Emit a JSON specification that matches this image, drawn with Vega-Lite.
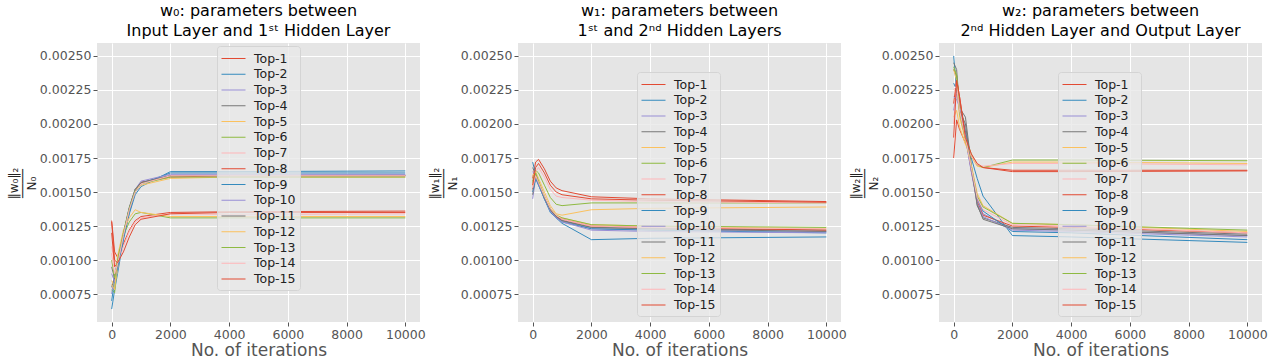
{
"$schema": "https://vega.github.io/schema/vega-lite/v6.json",
"autosize": {"type": "pad"},
"padding": {"left": 7, "top": 3, "right": 5, "bottom": 0},
"bounds": "flush",
"spacing": 98,
"config": {
  "font": "DejaVu Sans",
  "view": {"fill": "#E5E5E5", "stroke": null},
  "axis": {"domain": false, "grid": true, "gridColor": "#FFFFFF", "gridWidth": 1, "tickColor": "#555555", "tickSize": 4, "labelColor": "#555555", "labelFontSize": 12.5, "labelFont": "DejaVu Sans", "labelPadding": 2, "titleColor": "#555555", "titleFont": "DejaVu Sans", "titleFontWeight": "normal"},
  "title": {"font": "DejaVu Sans", "fontSize": 16, "fontWeight": "normal", "color": "#000000", "offset": 4, "anchor": "middle", "lineHeight": 20},
  "legend": {"orient": "none", "title": null, "symbolType": "M-1,0H2", "symbolSize": 256, "symbolStrokeWidth": 1, "labelFontSize": 12.5, "labelFont": "DejaVu Sans", "labelColor": "#222222", "fillColor": "rgba(232,232,232,0.8)", "strokeColor": "#d4d4d4", "padding": 4, "rowPadding": 0.75, "labelOffset": 16, "cornerRadius": 3, "zindex": 1}
},
"resolve": {"scale": {"color": "independent"}, "legend": {"color": "independent"}},
"datasets": {
"w0": [
{"s":"Top-1","x":0,"y":0.00129},{"s":"Top-1","x":100,"y":0.00106},{"s":"Top-1","x":200,"y":0.00102},{"s":"Top-1","x":400,"y":0.00112},{"s":"Top-1","x":600,"y":0.00122},{"s":"Top-1","x":800,"y":0.00129},{"s":"Top-1","x":1000,"y":0.00132},{"s":"Top-1","x":2000,"y":0.00135},{"s":"Top-1","x":4000,"y":0.001355},{"s":"Top-1","x":10000,"y":0.00136},
{"s":"Top-2","x":0,"y":0.00064},{"s":"Top-2","x":100,"y":0.00078},{"s":"Top-2","x":200,"y":0.0009},{"s":"Top-2","x":400,"y":0.00115},{"s":"Top-2","x":600,"y":0.00134},{"s":"Top-2","x":800,"y":0.00148},{"s":"Top-2","x":1000,"y":0.00154},{"s":"Top-2","x":2000,"y":0.00165},{"s":"Top-2","x":4000,"y":0.00165},{"s":"Top-2","x":10000,"y":0.001655},
{"s":"Top-3","x":0,"y":0.00075},{"s":"Top-3","x":100,"y":0.0009},{"s":"Top-3","x":200,"y":0.00098},{"s":"Top-3","x":400,"y":0.00118},{"s":"Top-3","x":600,"y":0.00137},{"s":"Top-3","x":800,"y":0.00151},{"s":"Top-3","x":1000,"y":0.00157},{"s":"Top-3","x":2000,"y":0.00162},{"s":"Top-3","x":4000,"y":0.00162},{"s":"Top-3","x":10000,"y":0.00162},
{"s":"Top-4","x":0,"y":0.0008},{"s":"Top-4","x":100,"y":0.00088},{"s":"Top-4","x":200,"y":0.00096},{"s":"Top-4","x":400,"y":0.00119},{"s":"Top-4","x":600,"y":0.00138},{"s":"Top-4","x":800,"y":0.00152},{"s":"Top-4","x":1000,"y":0.00157},{"s":"Top-4","x":2000,"y":0.00162},{"s":"Top-4","x":4000,"y":0.00162},{"s":"Top-4","x":10000,"y":0.001625},
{"s":"Top-5","x":0,"y":0.00085},{"s":"Top-5","x":100,"y":0.0008},{"s":"Top-5","x":200,"y":0.00093},{"s":"Top-5","x":400,"y":0.0012},{"s":"Top-5","x":600,"y":0.00137},{"s":"Top-5","x":800,"y":0.0015},{"s":"Top-5","x":1000,"y":0.00155},{"s":"Top-5","x":2000,"y":0.0016},{"s":"Top-5","x":4000,"y":0.00161},{"s":"Top-5","x":10000,"y":0.00161},
{"s":"Top-6","x":0,"y":0.00078},{"s":"Top-6","x":100,"y":0.00076},{"s":"Top-6","x":200,"y":0.001},{"s":"Top-6","x":400,"y":0.00118},{"s":"Top-6","x":600,"y":0.00128},{"s":"Top-6","x":800,"y":0.00134},{"s":"Top-6","x":1000,"y":0.00135},{"s":"Top-6","x":2000,"y":0.00131},{"s":"Top-6","x":4000,"y":0.00131},{"s":"Top-6","x":10000,"y":0.00131},
{"s":"Top-7","x":0,"y":0.0011},{"s":"Top-7","x":100,"y":0.00098},{"s":"Top-7","x":200,"y":0.00096},{"s":"Top-7","x":400,"y":0.0011},{"s":"Top-7","x":600,"y":0.00121},{"s":"Top-7","x":800,"y":0.00128},{"s":"Top-7","x":1000,"y":0.00131},{"s":"Top-7","x":2000,"y":0.00134},{"s":"Top-7","x":4000,"y":0.001335},{"s":"Top-7","x":10000,"y":0.00134},
{"s":"Top-8","x":0,"y":0.0012},{"s":"Top-8","x":100,"y":0.00095},{"s":"Top-8","x":200,"y":0.00098},{"s":"Top-8","x":400,"y":0.00118},{"s":"Top-8","x":600,"y":0.00137},{"s":"Top-8","x":800,"y":0.00151},{"s":"Top-8","x":1000,"y":0.00157},{"s":"Top-8","x":2000,"y":0.00161},{"s":"Top-8","x":4000,"y":0.00162},{"s":"Top-8","x":10000,"y":0.00162},
{"s":"Top-9","x":0,"y":0.0007},{"s":"Top-9","x":100,"y":0.00085},{"s":"Top-9","x":200,"y":0.00094},{"s":"Top-9","x":400,"y":0.00116},{"s":"Top-9","x":600,"y":0.00135},{"s":"Top-9","x":800,"y":0.0015},{"s":"Top-9","x":1000,"y":0.00156},{"s":"Top-9","x":2000,"y":0.00164},{"s":"Top-9","x":4000,"y":0.00164},{"s":"Top-9","x":10000,"y":0.00164},
{"s":"Top-10","x":0,"y":0.0009},{"s":"Top-10","x":100,"y":0.00084},{"s":"Top-10","x":200,"y":0.00097},{"s":"Top-10","x":400,"y":0.00119},{"s":"Top-10","x":600,"y":0.00138},{"s":"Top-10","x":800,"y":0.00152},{"s":"Top-10","x":1000,"y":0.00158},{"s":"Top-10","x":2000,"y":0.00163},{"s":"Top-10","x":4000,"y":0.00163},{"s":"Top-10","x":10000,"y":0.00163},
{"s":"Top-11","x":0,"y":0.00095},{"s":"Top-11","x":100,"y":0.00086},{"s":"Top-11","x":200,"y":0.00099},{"s":"Top-11","x":400,"y":0.0012},{"s":"Top-11","x":600,"y":0.00139},{"s":"Top-11","x":800,"y":0.00152},{"s":"Top-11","x":1000,"y":0.00157},{"s":"Top-11","x":2000,"y":0.00162},{"s":"Top-11","x":4000,"y":0.00162},{"s":"Top-11","x":10000,"y":0.00162},
{"s":"Top-12","x":0,"y":0.00082},{"s":"Top-12","x":100,"y":0.00078},{"s":"Top-12","x":200,"y":0.00103},{"s":"Top-12","x":400,"y":0.00122},{"s":"Top-12","x":600,"y":0.00131},{"s":"Top-12","x":800,"y":0.00137},{"s":"Top-12","x":1000,"y":0.00135},{"s":"Top-12","x":2000,"y":0.00132},{"s":"Top-12","x":4000,"y":0.00132},{"s":"Top-12","x":10000,"y":0.00132},
{"s":"Top-13","x":0,"y":0.001},{"s":"Top-13","x":100,"y":0.00087},{"s":"Top-13","x":200,"y":0.001},{"s":"Top-13","x":400,"y":0.0012},{"s":"Top-13","x":600,"y":0.00138},{"s":"Top-13","x":800,"y":0.00151},{"s":"Top-13","x":1000,"y":0.00156},{"s":"Top-13","x":2000,"y":0.00161},{"s":"Top-13","x":4000,"y":0.00161},{"s":"Top-13","x":10000,"y":0.00161},
{"s":"Top-14","x":0,"y":0.00105},{"s":"Top-14","x":100,"y":0.0009},{"s":"Top-14","x":200,"y":0.00097},{"s":"Top-14","x":400,"y":0.00118},{"s":"Top-14","x":600,"y":0.00137},{"s":"Top-14","x":800,"y":0.0015},{"s":"Top-14","x":1000,"y":0.00156},{"s":"Top-14","x":2000,"y":0.00162},{"s":"Top-14","x":4000,"y":0.00162},{"s":"Top-14","x":10000,"y":0.00162},
{"s":"Top-15","x":0,"y":0.00128},{"s":"Top-15","x":100,"y":0.001},{"s":"Top-15","x":200,"y":0.00098},{"s":"Top-15","x":400,"y":0.00106},{"s":"Top-15","x":600,"y":0.00117},{"s":"Top-15","x":800,"y":0.00126},{"s":"Top-15","x":1000,"y":0.0013},{"s":"Top-15","x":2000,"y":0.00134},{"s":"Top-15","x":4000,"y":0.00135},{"s":"Top-15","x":10000,"y":0.00135}
],
"w1": [
{"s":"Top-1","x":0,"y":0.0016},{"s":"Top-1","x":100,"y":0.00172},{"s":"Top-1","x":200,"y":0.00174},{"s":"Top-1","x":400,"y":0.00167},{"s":"Top-1","x":600,"y":0.00158},{"s":"Top-1","x":800,"y":0.00153},{"s":"Top-1","x":1000,"y":0.00151},{"s":"Top-1","x":2000,"y":0.001465},{"s":"Top-1","x":4000,"y":0.00145},{"s":"Top-1","x":10000,"y":0.00143},
{"s":"Top-2","x":0,"y":0.00172},{"s":"Top-2","x":100,"y":0.00163},{"s":"Top-2","x":200,"y":0.00156},{"s":"Top-2","x":400,"y":0.00145},{"s":"Top-2","x":600,"y":0.00135},{"s":"Top-2","x":800,"y":0.00131},{"s":"Top-2","x":1000,"y":0.00127},{"s":"Top-2","x":2000,"y":0.00115},{"s":"Top-2","x":4000,"y":0.00116},{"s":"Top-2","x":10000,"y":0.00117},
{"s":"Top-3","x":0,"y":0.00145},{"s":"Top-3","x":100,"y":0.0016},{"s":"Top-3","x":200,"y":0.00155},{"s":"Top-3","x":400,"y":0.00145},{"s":"Top-3","x":600,"y":0.00136},{"s":"Top-3","x":800,"y":0.00131},{"s":"Top-3","x":1000,"y":0.00129},{"s":"Top-3","x":2000,"y":0.00123},{"s":"Top-3","x":4000,"y":0.00122},{"s":"Top-3","x":10000,"y":0.00121},
{"s":"Top-4","x":0,"y":0.00148},{"s":"Top-4","x":100,"y":0.00162},{"s":"Top-4","x":200,"y":0.00157},{"s":"Top-4","x":400,"y":0.00146},{"s":"Top-4","x":600,"y":0.00137},{"s":"Top-4","x":800,"y":0.00132},{"s":"Top-4","x":1000,"y":0.00129},{"s":"Top-4","x":2000,"y":0.00124},{"s":"Top-4","x":4000,"y":0.00123},{"s":"Top-4","x":10000,"y":0.00122},
{"s":"Top-5","x":0,"y":0.00155},{"s":"Top-5","x":100,"y":0.00163},{"s":"Top-5","x":200,"y":0.00158},{"s":"Top-5","x":400,"y":0.00147},{"s":"Top-5","x":600,"y":0.00138},{"s":"Top-5","x":800,"y":0.00133},{"s":"Top-5","x":1000,"y":0.00131},{"s":"Top-5","x":2000,"y":0.00126},{"s":"Top-5","x":4000,"y":0.00125},{"s":"Top-5","x":10000,"y":0.00123},
{"s":"Top-6","x":0,"y":0.00158},{"s":"Top-6","x":100,"y":0.00166},{"s":"Top-6","x":200,"y":0.00164},{"s":"Top-6","x":400,"y":0.00155},{"s":"Top-6","x":600,"y":0.00146},{"s":"Top-6","x":800,"y":0.00141},{"s":"Top-6","x":1000,"y":0.0014},{"s":"Top-6","x":2000,"y":0.00142},{"s":"Top-6","x":4000,"y":0.00142},{"s":"Top-6","x":10000,"y":0.00142},
{"s":"Top-7","x":0,"y":0.0015},{"s":"Top-7","x":100,"y":0.00165},{"s":"Top-7","x":200,"y":0.00168},{"s":"Top-7","x":400,"y":0.00161},{"s":"Top-7","x":600,"y":0.00152},{"s":"Top-7","x":800,"y":0.00147},{"s":"Top-7","x":1000,"y":0.00146},{"s":"Top-7","x":2000,"y":0.00144},{"s":"Top-7","x":4000,"y":0.00143},{"s":"Top-7","x":10000,"y":0.00142},
{"s":"Top-8","x":0,"y":0.00152},{"s":"Top-8","x":100,"y":0.00161},{"s":"Top-8","x":200,"y":0.00157},{"s":"Top-8","x":400,"y":0.00146},{"s":"Top-8","x":600,"y":0.00137},{"s":"Top-8","x":800,"y":0.00132},{"s":"Top-8","x":1000,"y":0.0013},{"s":"Top-8","x":2000,"y":0.00125},{"s":"Top-8","x":4000,"y":0.00124},{"s":"Top-8","x":10000,"y":0.00122},
{"s":"Top-9","x":0,"y":0.0015},{"s":"Top-9","x":100,"y":0.0016},{"s":"Top-9","x":200,"y":0.00155},{"s":"Top-9","x":400,"y":0.00145},{"s":"Top-9","x":600,"y":0.00136},{"s":"Top-9","x":800,"y":0.00131},{"s":"Top-9","x":1000,"y":0.00128},{"s":"Top-9","x":2000,"y":0.00123},{"s":"Top-9","x":4000,"y":0.00122},{"s":"Top-9","x":10000,"y":0.0012},
{"s":"Top-10","x":0,"y":0.00165},{"s":"Top-10","x":100,"y":0.00162},{"s":"Top-10","x":200,"y":0.00156},{"s":"Top-10","x":400,"y":0.00146},{"s":"Top-10","x":600,"y":0.00136},{"s":"Top-10","x":800,"y":0.00131},{"s":"Top-10","x":1000,"y":0.00128},{"s":"Top-10","x":2000,"y":0.00122},{"s":"Top-10","x":4000,"y":0.00121},{"s":"Top-10","x":10000,"y":0.0012},
{"s":"Top-11","x":0,"y":0.00168},{"s":"Top-11","x":100,"y":0.00163},{"s":"Top-11","x":200,"y":0.00157},{"s":"Top-11","x":400,"y":0.00146},{"s":"Top-11","x":600,"y":0.00137},{"s":"Top-11","x":800,"y":0.00132},{"s":"Top-11","x":1000,"y":0.00129},{"s":"Top-11","x":2000,"y":0.00124},{"s":"Top-11","x":4000,"y":0.00123},{"s":"Top-11","x":10000,"y":0.00121},
{"s":"Top-12","x":0,"y":0.00162},{"s":"Top-12","x":100,"y":0.00165},{"s":"Top-12","x":200,"y":0.0016},{"s":"Top-12","x":400,"y":0.0015},{"s":"Top-12","x":600,"y":0.0014},{"s":"Top-12","x":800,"y":0.00134},{"s":"Top-12","x":1000,"y":0.00133},{"s":"Top-12","x":2000,"y":0.00137},{"s":"Top-12","x":4000,"y":0.00138},{"s":"Top-12","x":10000,"y":0.00139},
{"s":"Top-13","x":0,"y":0.00157},{"s":"Top-13","x":100,"y":0.00164},{"s":"Top-13","x":200,"y":0.00158},{"s":"Top-13","x":400,"y":0.00147},{"s":"Top-13","x":600,"y":0.00138},{"s":"Top-13","x":800,"y":0.00133},{"s":"Top-13","x":1000,"y":0.00131},{"s":"Top-13","x":2000,"y":0.00126},{"s":"Top-13","x":4000,"y":0.00125},{"s":"Top-13","x":10000,"y":0.00124},
{"s":"Top-14","x":0,"y":0.00153},{"s":"Top-14","x":100,"y":0.00162},{"s":"Top-14","x":200,"y":0.00157},{"s":"Top-14","x":400,"y":0.00147},{"s":"Top-14","x":600,"y":0.00138},{"s":"Top-14","x":800,"y":0.00133},{"s":"Top-14","x":1000,"y":0.0013},{"s":"Top-14","x":2000,"y":0.00125},{"s":"Top-14","x":4000,"y":0.00124},{"s":"Top-14","x":10000,"y":0.00123},
{"s":"Top-15","x":0,"y":0.00155},{"s":"Top-15","x":100,"y":0.00168},{"s":"Top-15","x":200,"y":0.00171},{"s":"Top-15","x":400,"y":0.00164},{"s":"Top-15","x":600,"y":0.00155},{"s":"Top-15","x":800,"y":0.0015},{"s":"Top-15","x":1000,"y":0.00148},{"s":"Top-15","x":2000,"y":0.00145},{"s":"Top-15","x":4000,"y":0.00144},{"s":"Top-15","x":10000,"y":0.001425}
],
"w2": [
{"s":"Top-1","x":0,"y":0.00175},{"s":"Top-1","x":100,"y":0.00203},{"s":"Top-1","x":200,"y":0.00196},{"s":"Top-1","x":400,"y":0.00186},{"s":"Top-1","x":600,"y":0.00177},{"s":"Top-1","x":800,"y":0.0017},{"s":"Top-1","x":1000,"y":0.00168},{"s":"Top-1","x":2000,"y":0.00166},{"s":"Top-1","x":4000,"y":0.00166},{"s":"Top-1","x":10000,"y":0.00166},
{"s":"Top-2","x":0,"y":0.0025},{"s":"Top-2","x":100,"y":0.00225},{"s":"Top-2","x":200,"y":0.00215},{"s":"Top-2","x":400,"y":0.00195},{"s":"Top-2","x":600,"y":0.00175},{"s":"Top-2","x":800,"y":0.0016},{"s":"Top-2","x":1000,"y":0.00147},{"s":"Top-2","x":2000,"y":0.00118},{"s":"Top-2","x":4000,"y":0.00117},{"s":"Top-2","x":10000,"y":0.00113},
{"s":"Top-3","x":0,"y":0.0021},{"s":"Top-3","x":100,"y":0.00222},{"s":"Top-3","x":200,"y":0.00215},{"s":"Top-3","x":400,"y":0.0019},{"s":"Top-3","x":600,"y":0.00165},{"s":"Top-3","x":800,"y":0.00145},{"s":"Top-3","x":1000,"y":0.00134},{"s":"Top-3","x":2000,"y":0.00123},{"s":"Top-3","x":4000,"y":0.00122},{"s":"Top-3","x":10000,"y":0.00118},
{"s":"Top-4","x":0,"y":0.00245},{"s":"Top-4","x":100,"y":0.0024},{"s":"Top-4","x":200,"y":0.00212},{"s":"Top-4","x":400,"y":0.00205},{"s":"Top-4","x":600,"y":0.0017},{"s":"Top-4","x":800,"y":0.0014},{"s":"Top-4","x":1000,"y":0.00131},{"s":"Top-4","x":2000,"y":0.00124},{"s":"Top-4","x":4000,"y":0.00123},{"s":"Top-4","x":10000,"y":0.00119},
{"s":"Top-5","x":0,"y":0.00205},{"s":"Top-5","x":100,"y":0.0021},{"s":"Top-5","x":200,"y":0.00198},{"s":"Top-5","x":400,"y":0.00185},{"s":"Top-5","x":600,"y":0.00176},{"s":"Top-5","x":800,"y":0.00169},{"s":"Top-5","x":1000,"y":0.00168},{"s":"Top-5","x":2000,"y":0.00172},{"s":"Top-5","x":4000,"y":0.00172},{"s":"Top-5","x":10000,"y":0.00171},
{"s":"Top-6","x":0,"y":0.0024},{"s":"Top-6","x":100,"y":0.00236},{"s":"Top-6","x":200,"y":0.00215},{"s":"Top-6","x":400,"y":0.0019},{"s":"Top-6","x":600,"y":0.00178},{"s":"Top-6","x":800,"y":0.0017},{"s":"Top-6","x":1000,"y":0.00168},{"s":"Top-6","x":2000,"y":0.001735},{"s":"Top-6","x":4000,"y":0.001735},{"s":"Top-6","x":10000,"y":0.00173},
{"s":"Top-7","x":0,"y":0.002},{"s":"Top-7","x":100,"y":0.0023},{"s":"Top-7","x":200,"y":0.00212},{"s":"Top-7","x":400,"y":0.00188},{"s":"Top-7","x":600,"y":0.00177},{"s":"Top-7","x":800,"y":0.0017},{"s":"Top-7","x":1000,"y":0.00169},{"s":"Top-7","x":2000,"y":0.00171},{"s":"Top-7","x":4000,"y":0.00171},{"s":"Top-7","x":10000,"y":0.0017},
{"s":"Top-8","x":0,"y":0.00215},{"s":"Top-8","x":100,"y":0.00233},{"s":"Top-8","x":200,"y":0.0022},{"s":"Top-8","x":400,"y":0.00192},{"s":"Top-8","x":600,"y":0.00166},{"s":"Top-8","x":800,"y":0.00143},{"s":"Top-8","x":1000,"y":0.00133},{"s":"Top-8","x":2000,"y":0.00125},{"s":"Top-8","x":4000,"y":0.00124},{"s":"Top-8","x":10000,"y":0.0012},
{"s":"Top-9","x":0,"y":0.0023},{"s":"Top-9","x":100,"y":0.00225},{"s":"Top-9","x":200,"y":0.0021},{"s":"Top-9","x":400,"y":0.00192},{"s":"Top-9","x":600,"y":0.00168},{"s":"Top-9","x":800,"y":0.00146},{"s":"Top-9","x":1000,"y":0.00136},{"s":"Top-9","x":2000,"y":0.00121},{"s":"Top-9","x":4000,"y":0.0012},{"s":"Top-9","x":10000,"y":0.00115},
{"s":"Top-10","x":0,"y":0.0022},{"s":"Top-10","x":100,"y":0.00218},{"s":"Top-10","x":200,"y":0.00212},{"s":"Top-10","x":400,"y":0.0019},{"s":"Top-10","x":600,"y":0.00165},{"s":"Top-10","x":800,"y":0.00142},{"s":"Top-10","x":1000,"y":0.00132},{"s":"Top-10","x":2000,"y":0.00122},{"s":"Top-10","x":4000,"y":0.00121},{"s":"Top-10","x":10000,"y":0.00117},
{"s":"Top-11","x":0,"y":0.0024},{"s":"Top-11","x":100,"y":0.00235},{"s":"Top-11","x":200,"y":0.0021},{"s":"Top-11","x":400,"y":0.002},{"s":"Top-11","x":600,"y":0.00168},{"s":"Top-11","x":800,"y":0.00141},{"s":"Top-11","x":1000,"y":0.0013},{"s":"Top-11","x":2000,"y":0.00123},{"s":"Top-11","x":4000,"y":0.00122},{"s":"Top-11","x":10000,"y":0.00118},
{"s":"Top-12","x":0,"y":0.0024},{"s":"Top-12","x":100,"y":0.00232},{"s":"Top-12","x":200,"y":0.00205},{"s":"Top-12","x":400,"y":0.00188},{"s":"Top-12","x":600,"y":0.0017},{"s":"Top-12","x":800,"y":0.00149},{"s":"Top-12","x":1000,"y":0.0014},{"s":"Top-12","x":2000,"y":0.00127},{"s":"Top-12","x":4000,"y":0.00126},{"s":"Top-12","x":10000,"y":0.00121},
{"s":"Top-13","x":0,"y":0.00242},{"s":"Top-13","x":100,"y":0.00236},{"s":"Top-13","x":200,"y":0.00208},{"s":"Top-13","x":400,"y":0.00189},{"s":"Top-13","x":600,"y":0.00169},{"s":"Top-13","x":800,"y":0.00147},{"s":"Top-13","x":1000,"y":0.00139},{"s":"Top-13","x":2000,"y":0.00127},{"s":"Top-13","x":4000,"y":0.00126},{"s":"Top-13","x":10000,"y":0.00122},
{"s":"Top-14","x":0,"y":0.00225},{"s":"Top-14","x":100,"y":0.00228},{"s":"Top-14","x":200,"y":0.0021},{"s":"Top-14","x":400,"y":0.0019},{"s":"Top-14","x":600,"y":0.00168},{"s":"Top-14","x":800,"y":0.00146},{"s":"Top-14","x":1000,"y":0.00137},{"s":"Top-14","x":2000,"y":0.00126},{"s":"Top-14","x":4000,"y":0.00125},{"s":"Top-14","x":10000,"y":0.0012},
{"s":"Top-15","x":0,"y":0.0019},{"s":"Top-15","x":100,"y":0.00232},{"s":"Top-15","x":200,"y":0.0022},{"s":"Top-15","x":400,"y":0.0019},{"s":"Top-15","x":600,"y":0.00178},{"s":"Top-15","x":800,"y":0.00171},{"s":"Top-15","x":1000,"y":0.00168},{"s":"Top-15","x":2000,"y":0.00165},{"s":"Top-15","x":4000,"y":0.00165},{"s":"Top-15","x":10000,"y":0.001655}
]
},
"hconcat": [
{
  "width": 323, "height": 279,
  "title": {"text": ["w₀: parameters between", "Input Layer and 1ˢᵗ Hidden Layer"]},
  "data": {"name": "w0"},
  "mark": {"type": "line", "strokeWidth": 1},
  "encoding": {
    "x": {"field": "x", "type": "quantitative", "scale": {"domain": [-500, 10500], "nice": false, "zero": false}, "axis": {"values": [0, 2000, 4000, 6000, 8000, 10000], "format": "d", "title": "No. of iterations", "titleFontSize": 17, "titlePadding": 2}},
    "y": {"field": "y", "type": "quantitative", "scale": {"domain": [0.000545, 0.002595], "nice": false, "zero": false}, "axis": {"values": [0.00075, 0.001, 0.00125, 0.0015, 0.00175, 0.002, 0.00225, 0.0025], "format": ".5f", "title": ["‖w₀‖₂", "────", "N₀"], "titleFontSize": 12, "titleLineHeight": 9, "titleAngle": -90, "titleX": -84, "titleY": 140, "titleAlign": "center", "titleBaseline": "middle", "titleColor": "#222222"}},
    "color": {"field": "s", "type": "nominal", "scale": {"domain": ["Top-1","Top-2","Top-3","Top-4","Top-5","Top-6","Top-7","Top-8","Top-9","Top-10","Top-11","Top-12","Top-13","Top-14","Top-15"], "range": ["#E24A33","#348ABD","#988ED5","#777777","#FBC15E","#8EBA42","#FFB5B8","#E24A33","#348ABD","#988ED5","#777777","#FBC15E","#8EBA42","#FFB5B8","#E24A33"]}, "legend": {"legendX": 120, "legendY": 3}}
  }
},
{
  "width": 323, "height": 279,
  "title": {"text": ["w₁: parameters between", "1ˢᵗ and 2ⁿᵈ Hidden Layers"]},
  "data": {"name": "w1"},
  "mark": {"type": "line", "strokeWidth": 1},
  "encoding": {
    "x": {"field": "x", "type": "quantitative", "scale": {"domain": [-500, 10500], "nice": false, "zero": false}, "axis": {"values": [0, 2000, 4000, 6000, 8000, 10000], "format": "d", "title": "No. of iterations", "titleFontSize": 17, "titlePadding": 2}},
    "y": {"field": "y", "type": "quantitative", "scale": {"domain": [0.000545, 0.002595], "nice": false, "zero": false}, "axis": {"values": [0.00075, 0.001, 0.00125, 0.0015, 0.00175, 0.002, 0.00225, 0.0025], "format": ".5f", "title": ["‖w₁‖₂", "────", "N₁"], "titleFontSize": 12, "titleLineHeight": 9, "titleAngle": -90, "titleX": -84, "titleY": 140, "titleAlign": "center", "titleBaseline": "middle", "titleColor": "#222222"}},
    "color": {"field": "s", "type": "nominal", "scale": {"domain": ["Top-1","Top-2","Top-3","Top-4","Top-5","Top-6","Top-7","Top-8","Top-9","Top-10","Top-11","Top-12","Top-13","Top-14","Top-15"], "range": ["#E24A33","#348ABD","#988ED5","#777777","#FBC15E","#8EBA42","#FFB5B8","#E24A33","#348ABD","#988ED5","#777777","#FBC15E","#8EBA42","#FFB5B8","#E24A33"]}, "legend": {"legendX": 119, "legendY": 29}}
  }
},
{
  "width": 323, "height": 279,
  "title": {"text": ["w₂: parameters between", "2ⁿᵈ Hidden Layer and Output Layer"]},
  "data": {"name": "w2"},
  "mark": {"type": "line", "strokeWidth": 1},
  "encoding": {
    "x": {"field": "x", "type": "quantitative", "scale": {"domain": [-500, 10500], "nice": false, "zero": false}, "axis": {"values": [0, 2000, 4000, 6000, 8000, 10000], "format": "d", "title": "No. of iterations", "titleFontSize": 17, "titlePadding": 2}},
    "y": {"field": "y", "type": "quantitative", "scale": {"domain": [0.000545, 0.002595], "nice": false, "zero": false}, "axis": {"values": [0.00075, 0.001, 0.00125, 0.0015, 0.00175, 0.002, 0.00225, 0.0025], "format": ".5f", "title": ["‖w₂‖₂", "────", "N₂"], "titleFontSize": 12, "titleLineHeight": 9, "titleAngle": -90, "titleX": -84, "titleY": 140, "titleAlign": "center", "titleBaseline": "middle", "titleColor": "#222222"}},
    "color": {"field": "s", "type": "nominal", "scale": {"domain": ["Top-1","Top-2","Top-3","Top-4","Top-5","Top-6","Top-7","Top-8","Top-9","Top-10","Top-11","Top-12","Top-13","Top-14","Top-15"], "range": ["#E24A33","#348ABD","#988ED5","#777777","#FBC15E","#8EBA42","#FFB5B8","#E24A33","#348ABD","#988ED5","#777777","#FBC15E","#8EBA42","#FFB5B8","#E24A33"]}, "legend": {"legendX": 119, "legendY": 29}}
  }
}
]
}
